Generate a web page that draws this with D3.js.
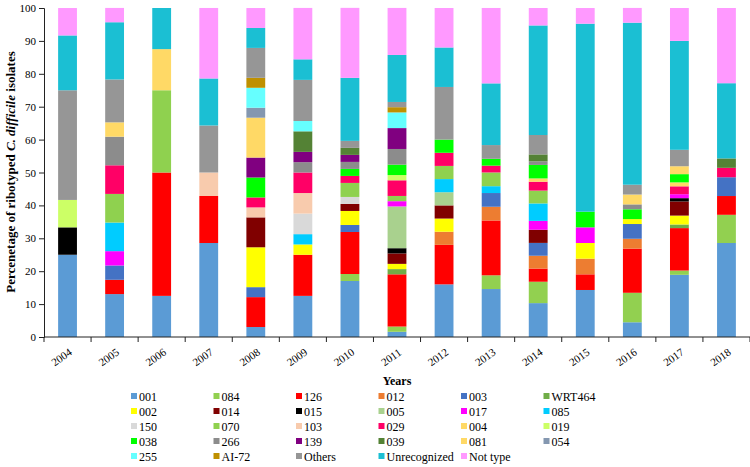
<!DOCTYPE html>
<html><head><meta charset="utf-8">
<script src="https://cdn.jsdelivr.net/npm/d3@7/dist/d3.min.js"></script>
<style>
body{margin:0;background:#fff;}
text{font-family:"Liberation Serif","Times New Roman",serif;fill:#000;}
</style>
</head><body>
<svg id="chart" width="750" height="467"></svg>
<script>
const years = ["2004","2005","2006","2007","2008","2009","2010","2011","2012","2013","2014","2015","2016","2017","2018"];
const yTicks = [0,10,20,30,40,50,60,70,80,90,100];
const ribotypes = ["001","084","126","012","003","WRT464","002","014","015","005","017","085","150","070","103","029","004","019","038","266","139","039","081","054","255","AI-72","Others","Unrecognized","Not type"];
const colors = ["#5B9BD5","#92D050","#FF0000","#ED7D31","#4472C4","#70AD47","#FFFF00","#800000","#000000","#A9D18E","#FF00FF","#00CCFF","#D9D9D9","#8FD14F","#F8CBAD","#FF0066","#FFD966","#CCFF66","#00FF00","#8C8C8C","#800080","#548235","#FFD966","#8497B0","#66FFFF","#BF9000","#969696","#1BBFD3","#FF99FF"];

// percentage of ribotyped isolates, one array per ribotype, 2004..2018
const s001    = [25, 13.04, 12.5, 28.57, 3.03, 12.5, 17.02, 1.59, 16, 14.58, 10.3, 14.29, 4.48, 18.9, 28.57];
const s084    = [0, 0, 0, 0, 0, 0, 2.13, 1.59, 0, 4.17, 6.5, 0, 8.96, 1.3, 8.57];
const s126    = [0, 4.35, 37.5, 14.29, 9.09, 12.5, 12.77, 15.87, 12, 16.67, 4.0, 4.76, 13.43, 12.9, 5.71];
const s012    = [0, 0, 0, 0, 0, 0, 0, 0, 4, 4.17, 3.9, 4.76, 2.99, 0, 0];
const s003    = [0, 4.35, 0, 0, 3.03, 0, 2.13, 0, 0, 4.17, 3.9, 0, 4.48, 0, 5.71];
const sWRT464 = [0, 0, 0, 0, 0, 0, 0, 1.59, 0, 0, 0, 0, 0, 1.1, 0];
const s002    = [0, 0, 0, 0, 12.12, 3.13, 4.26, 1.59, 4, 0, 0, 4.76, 1.49, 2.7, 0];
const s014    = [0, 0, 0, 0, 9.09, 0, 2.13, 3.17, 4, 0, 4.0, 0, 0, 4.3, 0];
const s015    = [8.33, 0, 0, 0, 0, 0, 0, 1.59, 0, 0, 0, 0, 0, 1.0, 0];
const s005    = [0, 0, 0, 0, 0, 0, 0, 12.7, 4, 0, 0, 0, 0, 0, 0];
const s017    = [0, 4.35, 0, 0, 0, 0, 0, 1.59, 0, 0, 2.7, 4.76, 0, 1.2, 0];
const s085    = [0, 8.7, 0, 0, 0, 3.13, 0, 0, 4, 2.08, 5.3, 0, 0, 0, 0];
const s150    = [0, 0, 0, 0, 0, 6.25, 2.13, 0, 0, 0, 0, 0, 0, 0, 0];
const s070    = [0, 8.7, 25, 0, 0, 0, 4.26, 1.59, 4, 4.17, 3.9, 0, 0, 0, 0];
const s103    = [0, 0, 0, 7.14, 3.03, 6.25, 0, 0, 0, 0, 0, 0, 0, 0, 0];
const s029    = [0, 8.7, 0, 0, 3.03, 6.25, 2.13, 4.76, 4, 2.08, 2.7, 0, 0, 2.4, 2.86];
const s004    = [0, 0, 12.5, 0, 0, 0, 0, 0, 0, 0, 1.0, 0, 0, 1.2, 0];
const s019    = [8.33, 0, 0, 0, 0, 0, 0, 1.59, 0, 0, 0, 0, 0, 0, 0];
const s038    = [0, 0, 0, 0, 6.06, 0, 2.13, 3.17, 4, 2.08, 4.1, 4.76, 2.99, 2.5, 0];
const s266    = [0, 8.7, 0, 0, 0, 3.13, 2.13, 4.76, 0, 0, 1.1, 0, 1.49, 0, 0];
const s139    = [0, 0, 0, 0, 6.06, 3.13, 2.13, 6.35, 0, 0, 0, 0, 0, 0, 0];
const s039    = [0, 0, 0, 0, 0, 6.25, 2.13, 0, 0, 0, 2.1, 0, 0, 0, 2.86];
const s081    = [0, 4.35, 0, 0, 12.12, 0, 0, 0, 0, 0, 0, 0, 2.99, 2.4, 0];
const s054    = [0, 0, 0, 0, 3.03, 0, 0, 0, 0, 0, 0, 0, 0, 0, 0];
const s255    = [0, 0, 0, 0, 6.06, 3.13, 0, 4.76, 0, 0, 0, 0, 0, 0, 0];
const sAI72   = [0, 0, 0, 0, 3.03, 0, 0, 1.59, 0, 0, 0, 0, 0, 0, 0];
const sOthers = [33.33, 13.04, 0, 14.29, 9.09, 12.5, 2.13, 1.59, 16, 4.17, 5.9, 0, 2.99, 5.0, 0];
const sUnrec  = [16.67, 17.39, 12.5, 14.29, 6.06, 6.25, 19.15, 14.29, 12, 18.75, 33.3, 57.14, 49.25, 33.1, 22.86];
const sNot    = [8.33, 4.35, 0, 21.43, 6.06, 15.62, 21.28, 14.29, 12, 22.92, 5.3, 4.76, 4.48, 10.0, 22.86];

const seriesValues = [s001,s084,s126,s012,s003,sWRT464,s002,s014,s015,s005,s017,s085,s150,s070,s103,s029,s004,s019,s038,s266,s139,s039,s081,s054,s255,sAI72,sOthers,sUnrec,sNot];

const table = years.map((yr, i) => {
  const row = {year: yr};
  ribotypes.forEach((r, j) => row[r] = seriesValues[j][i]);
  return row;
});

const svg = d3.select("#chart");
const mLeft = 44, mRight = 750, mTop = 8, mBottom = 337;

const x = d3.scaleBand().domain(years).range([mLeft, mRight]).paddingInner(0.6).paddingOuter(0.3);
const y = d3.scaleLinear().domain([0, 100]).range([mBottom, mTop]);
const color = d3.scaleOrdinal().domain(ribotypes).range(colors);

const stacked = d3.stack().keys(ribotypes)(table);

svg.append("g").selectAll("g").data(stacked).join("g")
  .attr("fill", d => color(d.key))
  .selectAll("rect").data(d => d.filter(p => p[1] - p[0] > 0)).join("rect")
  .attr("x", d => x(d.data.year))
  .attr("width", x.bandwidth())
  .attr("y", d => y(d[1]))
  .attr("height", d => y(d[0]) - y(d[1]));

// y axis
const yAxis = svg.append("g").attr("transform", `translate(${mLeft},0)`)
  .call(d3.axisLeft(y).tickValues(yTicks).tickSize(5).tickPadding(3));
yAxis.select(".domain").attr("stroke", "#222");
yAxis.selectAll(".tick line").attr("stroke", "#222");
yAxis.selectAll("text").style("font-size", "11px").style("font-family", "Liberation Serif");

// x axis: line with ticks at category boundaries
const gap = x.step() - x.bandwidth();
svg.append("line").attr("x1", mLeft).attr("x2", mRight).attr("y1", mBottom).attr("y2", mBottom).attr("stroke", "#222");
const bounds = years.map(yr => x(yr) - gap / 2).concat([x(years[years.length-1]) + x.bandwidth() + gap / 2]);
svg.append("g").selectAll("line").data(bounds).join("line")
  .attr("x1", d => d).attr("x2", d => d).attr("y1", mBottom).attr("y2", mBottom + 5).attr("stroke", "#222");
svg.append("g").selectAll("text").data(years).join("text")
  .attr("transform", d => `translate(${x(d) + x.bandwidth()/2 - 6},${357}) rotate(-35)`)
  .attr("text-anchor", "middle").attr("dominant-baseline", "central")
  .style("font-size", "11px").text(d => d);

// axis titles
svg.append("text").attr("x", 397).attr("y", 385).attr("text-anchor", "middle")
  .style("font-size", "12px").style("font-weight", "bold").text("Years");
const yt = svg.append("text").attr("transform", "translate(15,172) rotate(-90)")
  .attr("text-anchor", "middle").style("font-size", "13px").style("font-weight", "bold");
yt.append("tspan").text("Percenetage of ribotyped ");
yt.append("tspan").style("font-style", "italic").text("C. difficile");
yt.append("tspan").text(" isolates");

// legend
const legCols = 6, colW = 82.5, rowH = 15, legX = 131, legY = 397;
const leg = svg.append("g").selectAll("g").data(ribotypes).join("g")
  .attr("transform", (d, i) => `translate(${legX + (i % legCols) * colW},${legY + Math.floor(i / legCols) * rowH})`);
leg.append("rect").attr("x", 0).attr("y", -4).attr("width", 6).attr("height", 6).attr("fill", d => color(d));
leg.append("text").attr("x", 8).attr("y", 0).attr("dominant-baseline", "central")
  .style("font-size", "12px").text(d => d);
</script>
</body></html>
